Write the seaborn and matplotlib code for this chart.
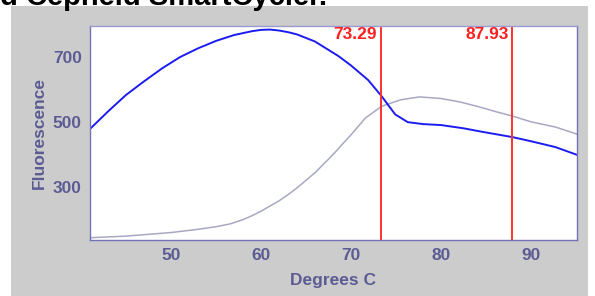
import seaborn as sns
import matplotlib.pyplot as plt
import matplotlib.patches as mpatches
import pandas as pd

# melt curve readings (degrees C, fluorescence)
blue_temp = [41, 43, 45, 47, 49, 51, 53, 55, 57, 59, 60, 61, 62, 63, 64, 66, 68.6, 70,
             71.9, 73.4, 74.9, 76.3, 78, 80, 82.5, 84.6, 87.9, 90, 92.7, 95.1]
blue_fluor = [478, 532, 583, 625, 665, 700, 727, 750, 768, 780, 784, 785, 782, 777, 770, 748, 703, 674,
              629, 579, 523, 499, 493, 490, 480, 469, 453, 440, 422, 398]

gray_temp = [41, 45, 50, 53, 55, 56.6, 58, 59, 60, 61, 62, 63, 64, 66, 67.4, 68.3, 69, 70, 71.6,
             73.4, 75.5, 77.6, 80, 82, 84, 86, 87.9, 90, 92.7, 95.1]
gray_fluor = [142, 147, 158, 168, 176, 185, 198, 210, 224, 240, 256, 275, 296, 343, 382, 408, 430, 460, 512,
              548, 568, 577, 572, 562, 548, 532, 518, 500, 484, 462]

markers = [73.29, 87.93]
marker_labels = ['73.29', '87.93']

AXCOL = '#7272b8'
TXTCOL = '#5c5c94'


def main():
    sns.set_style('white')
    plt.rcParams['font.family'] = ['Liberation Sans', 'DejaVu Sans']

    fig = plt.figure(figsize=(5.95, 2.96), dpi=100)
    fig.patch.set_facecolor('white')
    # gray panel behind the chart
    fig.patches.append(mpatches.Rectangle((11 / 595, 0), 577 / 595, 290 / 296,
                                          transform=fig.transFigure, facecolor='#cccccc',
                                          edgecolor='none', zorder=-5))
    fig.text(0.0, 1 - 5 / 296, 'd Cepheid SmartCycler.', fontsize=21, fontweight='bold',
             color='black', ha='left', va='baseline', zorder=5)

    ax = fig.add_axes([90 / 595, 56 / 296, 487 / 595, 214 / 296])
    ax.set_zorder(1)
    ax.set_facecolor('white')

    df_blue = pd.DataFrame({'temp': blue_temp, 'fluor': blue_fluor})
    df_gray = pd.DataFrame({'temp': gray_temp, 'fluor': gray_fluor})
    sns.lineplot(data=df_gray, x='temp', y='fluor', color='#a8a8c4', lw=1.1, ax=ax)
    sns.lineplot(data=df_blue, x='temp', y='fluor', color='#1c1cf0', lw=1.4, ax=ax)

    for m, lab in zip(markers, marker_labels):
        ax.axvline(m, color='#ff3030', lw=1.4)
        ax.text(m - 0.45, 792, lab, color='#ff2020', fontsize=12.5, fontweight='bold',
                ha='right', va='top')

    ax.set_xlim(41, 95.1)
    ax.set_ylim(135, 796)
    ax.set_xticks([50, 60, 70, 80, 90])
    ax.set_xticks([45, 55, 65, 75, 85, 95], minor=True)
    ax.set_yticks([300, 500, 700])
    ax.set_yticks([200, 400, 600], minor=True)
    ax.tick_params(which='both', direction='inout', color=AXCOL, labelcolor=TXTCOL,
                   labelsize=12.5, width=1)
    ax.tick_params(which='major', length=6, pad=3)
    ax.tick_params(which='minor', length=5)
    for lab in ax.get_xticklabels() + ax.get_yticklabels():
        lab.set_fontweight('bold')

    for s in ax.spines.values():
        s.set_visible(True)
        s.set_color(AXCOL)
        s.set_linewidth(1)
    ax.spines['top'].set_color('#9a9ad0')

    ax.set_xlabel('Degrees C', color=TXTCOL, fontsize=12.5, fontweight='bold', labelpad=7)
    ax.set_ylabel('Fluorescence', color=TXTCOL, fontsize=12.5, fontweight='bold', labelpad=4)

    fig.savefig('out.png', dpi=100, facecolor='white')


if __name__ == '__main__':
    main()
